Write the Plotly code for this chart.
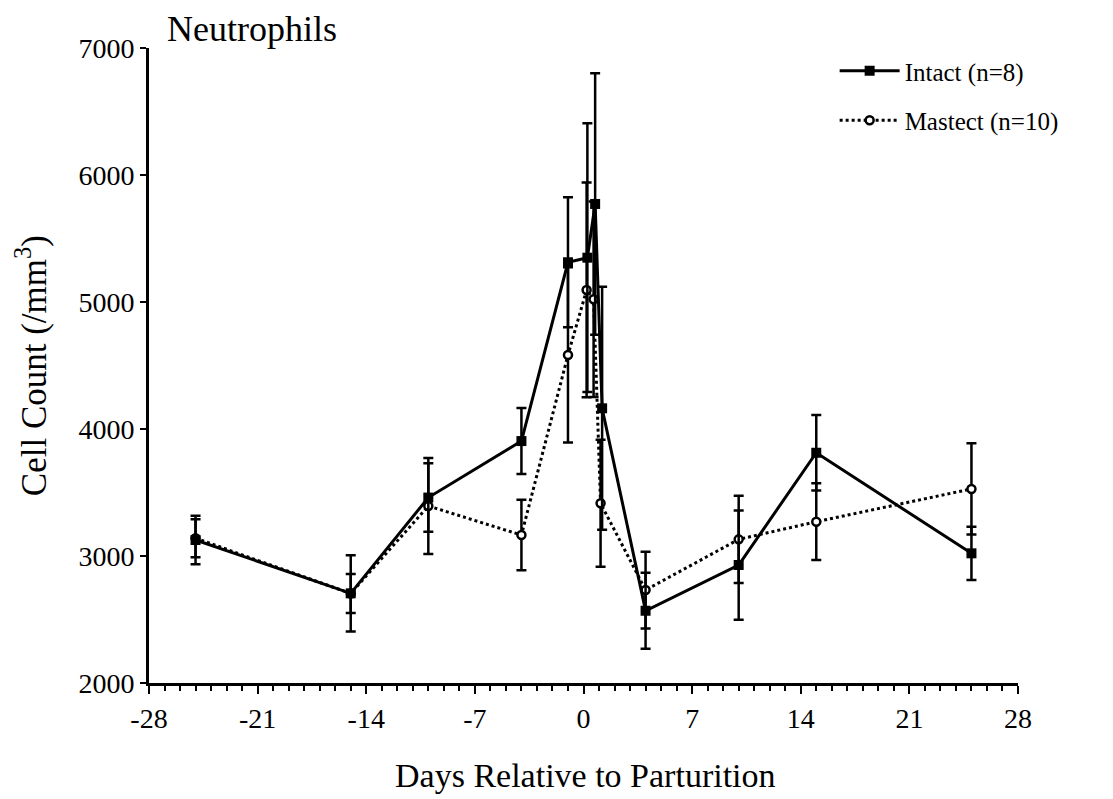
import plotly.graph_objects as go

# Data
days_intact = [-25, -15, -10, -4, -1, 0.25, 0.75, 1.2, 4, 10, 15, 25]
intact = [3126, 2706, 3460, 3905, 5313, 5349, 5772, 4163, 2569, 2929, 3813, 3021]
intact_err = [190, 300, 270, 260, 511, 1058, 1029, 957, 300, 430, 297, 210]

days_mast = [-25, -15, -10, -4, -1, 0.2, 0.65, 1.1, 4, 10, 15, 25]
mast = [3140, 2705, 3394, 3165, 4583, 5095, 5021, 3415, 2732, 3131, 3270, 3528]
mast_err = [150, 153, 378, 278, 690, 845, 770, 500, 302, 344, 302, 359]

x_ticks = [-28, -21, -14, -7, 0, 7, 14, 21, 28]
y_ticks = [2000, 3000, 4000, 5000, 6000, 7000]

FONT = "Liberation Serif"

fig = go.Figure()

fig.add_trace(go.Scatter(
    x=days_mast, y=mast, name="Mastect (n=10)", mode="lines+markers",
    line=dict(color="black", width=3, dash="dot"),
    marker=dict(symbol="circle", size=8, color="white", line=dict(color="black", width=2.5)),
    error_y=dict(type="data", array=mast_err, visible=True, color="black", thickness=2.5, width=5),
    legendrank=2, legendgroup="m",
))
fig.add_trace(go.Scatter(
    x=days_intact, y=intact, name="Intact (n=8)", mode="lines+markers",
    line=dict(color="black", width=3),
    marker=dict(symbol="square", size=10, color="black"),
    error_y=dict(type="data", array=intact_err, visible=True, color="black", thickness=2.5, width=5),
    legendrank=1, legendgroup="i",
))

fig.update_layout(
    width=1113, height=799,
    margin=dict(l=149, r=95, t=48, b=116),
    paper_bgcolor="white", plot_bgcolor="white",
    font=dict(family=FONT, color="black", size=24),
    showlegend=True,
    legend=dict(x=0.789, y=1.0, xanchor="left", yanchor="top",
                font=dict(family=FONT, size=25), tracegroupgap=14,
                bgcolor="rgba(0,0,0,0)", itemwidth=60),
    xaxis=dict(range=[-28, 28], tickvals=x_ticks, ticktext=[str(v) for v in x_ticks],
               showgrid=False, zeroline=False, showline=True, linecolor="black", linewidth=3,
               ticks="outside", ticklen=8, tickwidth=2, tickcolor="black",
               tickfont=dict(family=FONT, size=28),
               minor=dict(dtick=1, ticks="outside", ticklen=5, tickwidth=2, tickcolor="black")),
    yaxis=dict(range=[2000, 7000], tickvals=y_ticks, ticktext=[str(v) for v in y_ticks],
               showgrid=False, zeroline=False, showline=True, linecolor="black", linewidth=3,
               ticks="outside", ticklen=6, tickwidth=2, tickcolor="black",
               tickfont=dict(family=FONT, size=28)),
    annotations=[
        dict(text="Neutrophils", x=0.018, y=1.03, xref="paper", yref="paper",
             xanchor="left", yanchor="middle", showarrow=False,
             font=dict(family=FONT, size=36)),
        dict(text="Cell Count (/mm<sup>3</sup>)", x=-0.135, y=0.50, xref="paper", yref="paper",
             xanchor="center", yanchor="middle", textangle=-90, showarrow=False,
             font=dict(family=FONT, size=35)),
        dict(text="Days Relative to Parturition", x=0.502, y=-0.145, xref="paper", yref="paper",
             xanchor="center", yanchor="middle", showarrow=False,
             font=dict(family=FONT, size=34)),
    ],
)

fig.write_html("out.html")
